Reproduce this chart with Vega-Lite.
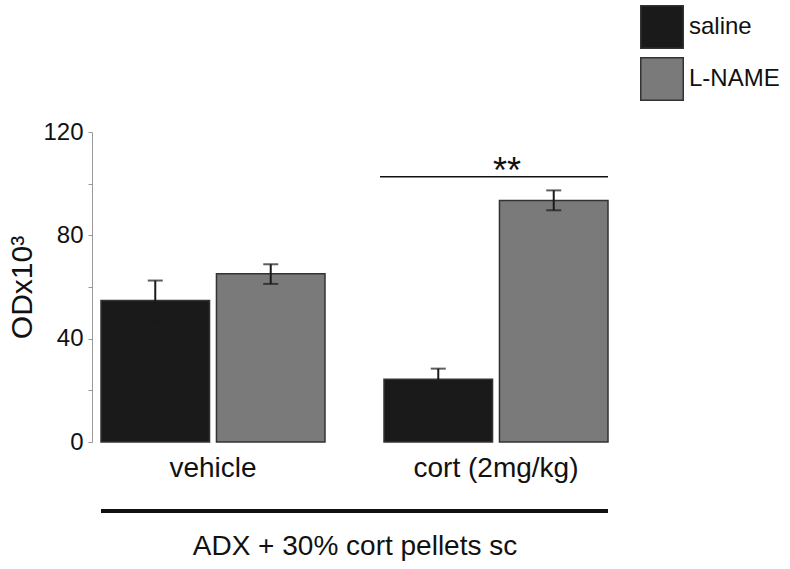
{
  "$schema": "https://vega.github.io/schema/vega-lite/v6.json",
  "autosize": "none",
  "width": 525,
  "height": 310,
  "padding": {"left": 92, "top": 132, "right": 173, "bottom": 127},
  "config": {"font": "Liberation Sans", "view": {"stroke": null}},
  "data": {
    "values": [
      {"group": "vehicle", "treatment": "saline", "mean": 54.8, "lo": 47.1, "hi": 62.5},
      {"group": "vehicle", "treatment": "L-NAME", "mean": 65.1, "lo": 61.2, "hi": 68.8},
      {"group": "cort (2mg/kg)", "treatment": "saline", "mean": 24.3, "lo": 20.2, "hi": 28.4},
      {"group": "cort (2mg/kg)", "treatment": "L-NAME", "mean": 93.5, "lo": 89.7, "hi": 97.4}
    ]
  },
  "layer": [
    {
      "mark": {"type": "bar", "stroke": "#333333", "strokeWidth": 1.5},
      "encoding": {
        "x": {
          "field": "group", "type": "nominal", "sort": ["vehicle", "cort (2mg/kg)"],
          "scale": {"domain": ["vehicle", "cort (2mg/kg)"], "paddingInner": 0.2085, "paddingOuter": 0.0318},
          "axis": {
            "domain": false, "ticks": false, "labelAngle": 0, "labelFontSize": 28, "labelColor": "#111111",
            "labelPadding": 12, "titleFontSize": 28, "titleFontWeight": "normal", "titleColor": "#111111",
            "titlePadding": 50
          },
          "title": "ADX + 30% cort pellets sc"
        },
        "xOffset": {"field": "treatment", "type": "nominal", "sort": ["saline", "L-NAME"], "scale": {"domain": ["saline", "L-NAME"], "paddingInner": 0.06, "paddingOuter": 0}},
        "y": {
          "field": "mean", "type": "quantitative", "scale": {"domain": [0, 120], "nice": false},
          "axis": {
            "values": [0, 20, 40, 60, 80, 100, 120], "labelExpr": "datum.value % 40 === 0 ? datum.label : ''",
            "grid": false, "tickSize": 4, "tickColor": "#999999", "domainColor": "#999999",
            "labelFontSize": 24, "labelColor": "#111111", "labelPadding": 5,
            "titleFontSize": 30, "titleFontWeight": "normal", "titleColor": "#111111", "titlePadding": 5
          },
          "title": "ODx10³"
        },
        "fill": {
          "field": "treatment", "type": "nominal",
          "scale": {"domain": ["saline", "L-NAME"], "range": ["#1a1a1a", "#7a7a7a"]},
          "legend": {
            "title": null, "orient": "none", "legendX": 548, "legendY": -127, "padding": 0,
            "symbolType": "square", "symbolSize": 1806, "symbolStrokeColor": "#333333", "symbolStrokeWidth": 1.5,
            "symbolOpacity": 1, "labelFontSize": 24, "labelColor": "#111111", "labelOffset": 5, "rowPadding": 2
          }
        }
      }
    },
    {
      "mark": {"type": "rule", "color": "#1a1a1a", "strokeWidth": 2},
      "encoding": {
        "x": {"field": "group", "type": "nominal", "sort": ["vehicle", "cort (2mg/kg)"], "title": "ADX + 30% cort pellets sc"},
        "xOffset": {"field": "treatment", "type": "nominal", "sort": ["saline", "L-NAME"]},
        "y": {"field": "lo", "type": "quantitative", "title": "ODx10³"},
        "y2": {"field": "hi"}
      }
    },
    {
      "mark": {"type": "tick", "color": "#1a1a1a", "size": 15, "thickness": 2},
      "encoding": {
        "x": {"field": "group", "type": "nominal", "sort": ["vehicle", "cort (2mg/kg)"], "title": "ADX + 30% cort pellets sc"},
        "xOffset": {"field": "treatment", "type": "nominal", "sort": ["saline", "L-NAME"]},
        "y": {"field": "hi", "type": "quantitative", "title": "ODx10³"}
      }
    },
    {
      "mark": {"type": "tick", "color": "#1a1a1a", "size": 15, "thickness": 2},
      "encoding": {
        "x": {"field": "group", "type": "nominal", "sort": ["vehicle", "cort (2mg/kg)"], "title": "ADX + 30% cort pellets sc"},
        "xOffset": {"field": "treatment", "type": "nominal", "sort": ["saline", "L-NAME"]},
        "y": {"field": "lo", "type": "quantitative", "title": "ODx10³"}
      }
    },
    {
      "data": {"values": [{"label": "**", "level": 102.7, "from": "cort (2mg/kg)"}]},
      "mark": {"type": "rule", "color": "#111111", "strokeWidth": 1.5},
      "encoding": {
        "x": {"field": "from", "type": "nominal", "sort": ["vehicle", "cort (2mg/kg)"], "bandPosition": -0.018, "title": "ADX + 30% cort pellets sc"},
        "x2": {"field": "from", "bandPosition": 1},
        "y": {"field": "level", "type": "quantitative", "title": "ODx10³"}
      }
    },
    {
      "data": {"values": [{"label": "**", "level": 102.7, "from": "cort (2mg/kg)"}]},
      "mark": {"type": "text", "color": "#111111", "fontSize": 36, "baseline": "alphabetic", "dx": 11, "dy": 6},
      "encoding": {
        "x": {"field": "from", "type": "nominal", "sort": ["vehicle", "cort (2mg/kg)"], "title": "ADX + 30% cort pellets sc"},
        "y": {"field": "level", "type": "quantitative", "title": "ODx10³"},
        "text": {"field": "label"}
      }
    },
    {
      "data": {"values": [{"from": "vehicle", "to": "cort (2mg/kg)", "level": -26.7}]},
      "mark": {"type": "rule", "color": "#111111", "strokeWidth": 4},
      "encoding": {
        "x": {"field": "from", "type": "nominal", "sort": ["vehicle", "cort (2mg/kg)"], "bandPosition": 0, "title": "ADX + 30% cort pellets sc"},
        "x2": {"field": "to", "bandPosition": 1},
        "y": {"field": "level", "type": "quantitative", "title": "ODx10³"}
      }
    }
  ]
}
